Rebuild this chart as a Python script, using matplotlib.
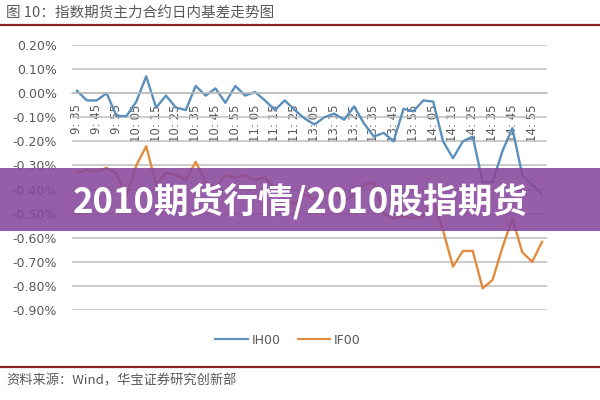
#!/usr/bin/env python3

'''Plot intraday basis of index futures (IH00 vs IF00) with banner.'''

import matplotlib.pyplot as plt
import matplotlib.lines as mlines
import matplotlib.patches as mpatches
import matplotlib.ticker as ticker

CJK = ['Noto Sans CJK SC', 'DejaVu Sans']

TITLE = '图 10：指数期货主力合约日内基差走势图'
SOURCE = '资料来源：Wind，华宝证券研究创新部'
BANNER = '2010期货行情/2010股指期货'

TIMES = ['9:35', '9:40', '9:45', '9:50', '9:55', '10:00', '10:05', '10:10',
         '10:15', '10:20', '10:25', '10:30', '10:35', '10:40', '10:45', '10:50',
         '10:55', '11:00', '11:05', '11:10', '11:15', '11:20', '11:25', '11:30',
         '13:05', '13:10', '13:15', '13:20', '13:25', '13:30', '13:35', '13:40',
         '13:45', '13:50', '13:55', '14:00', '14:05', '14:10', '14:15', '14:20',
         '14:25', '14:30', '14:35', '14:40', '14:45', '14:50', '14:55', '15:00']

IH00 = [0.01, -0.03, -0.03, 0.00, -0.095, -0.095, -0.035, 0.07,
        -0.06, -0.01, -0.06, -0.07, 0.03, -0.01, 0.02, -0.04,
        0.03, -0.01, 0.005, -0.03, -0.07, -0.03, -0.07, -0.105,
        -0.13, -0.10, -0.085, -0.11, -0.055, -0.125, -0.18, -0.165,
        -0.20, -0.065, -0.075, -0.03, -0.035, -0.20, -0.27, -0.20,
        -0.18, -0.37, -0.37, -0.24, -0.145, -0.34, -0.38, -0.42]

IF00 = [-0.33, -0.32, -0.325, -0.31, -0.335, -0.43, -0.30, -0.22,
        -0.38, -0.33, -0.34, -0.36, -0.285, -0.37, -0.39, -0.34,
        -0.35, -0.34, -0.36, -0.35, -0.40, -0.44, -0.46, -0.42,
        -0.44, -0.42, -0.40, -0.45, -0.42, -0.38, -0.37, -0.50,
        -0.52, -0.51, -0.52, -0.51, -0.45, -0.57, -0.72, -0.655,
        -0.655, -0.81, -0.775, -0.64, -0.52, -0.66, -0.70, -0.617]

Y_TICKS = [0.2, 0.1, 0.0, -0.1, -0.2, -0.3, -0.4, -0.5, -0.6, -0.7, -0.8, -0.9]

BLUE = '#5b8fbc'
ORANGE = '#e38b3e'
GRID = '#bdbdbd'
TEXT = '#595959'
RULE = '#8b2323'


def format_axis(axis):
    '''Grid, ticks and spines in the Excel look.'''
    axis.set_xlim(-0.5, len(TIMES) - 0.5)
    axis.set_ylim(-0.9, 0.2)
    axis.set_yticks(Y_TICKS)
    axis.yaxis.set_major_formatter(ticker.FuncFormatter(lambda v, _: '%.2f%%' % v))
    axis.yaxis.grid(True, color=GRID, linewidth=1.1)
    axis.set_axisbelow(True)
    for name in ('top', 'right', 'left'):
        axis.spines[name].set_visible(False)
    axis.spines['bottom'].set_position(('data', 0))
    axis.spines['bottom'].set_color(GRID)
    axis.spines['bottom'].set_linewidth(1.1)

    pos = list(range(0, len(TIMES), 2))
    axis.set_xticks(pos)
    axis.set_xticklabels([TIMES[i].replace(':', ': ') for i in pos],
                         rotation=90, va='top', ha='center', fontsize=8.5,
                         color=TEXT)
    axis.tick_params(axis='x', length=0, pad=8)
    axis.tick_params(axis='y', length=0, pad=11, labelsize=9, labelcolor=TEXT)


def decorate(fig):
    '''Title, rules, legend, source and banner.'''
    fig.text(0.01, 1 - 13 / 400, TITLE, family=CJK, fontsize=10.5,
             color=TEXT, va='center', ha='left')
    fig.add_artist(mlines.Line2D([0, 1], [1 - 25 / 400] * 2, color=RULE,
                                 linewidth=1.6))
    fig.add_artist(mlines.Line2D([0, 1], [1 - 367 / 400] * 2, color=RULE,
                                 linewidth=1.6))
    fig.text(0.01, 1 - 381 / 400, SOURCE, family=CJK, fontsize=9.5,
             color=TEXT, va='center', ha='left')

    ih_line = mlines.Line2D([], [], color=BLUE, linewidth=1.5, label='IH00')
    if_line = mlines.Line2D([], [], color=ORANGE, linewidth=1.5, label='IF00')
    leg = fig.legend(handles=[ih_line, if_line], loc='center',
                     bbox_to_anchor=(0.48, 1 - 340 / 400), ncol=2,
                     frameon=False, fontsize=9, handlelength=2.6,
                     columnspacing=1.4, handletextpad=0.3)
    for txt in leg.get_texts():
        txt.set_color(TEXT)

    top = 1 - 168 / 400
    bot = 1 - 231 / 400
    fig.add_artist(mpatches.Rectangle((0, bot), 1, top - bot,
                                      transform=fig.transFigure,
                                      facecolor='#88489c', alpha=0.88,
                                      edgecolor='none', zorder=10))
    fig.text(0.5, 1 - 201 / 400, BANNER, family=CJK, fontsize=25,
             fontweight='bold', color='white', ha='center', va='center',
             zorder=11)


def plot_graph():
    '''Draw the chart and save out.png.'''
    fig = plt.figure(figsize=(6, 4), dpi=100)
    axis = fig.add_axes([72 / 600, 1 - 310 / 400, 475 / 600, 265 / 400])
    xs = range(len(TIMES))
    axis.plot(xs, IH00, '-', color=BLUE, linewidth=1.7)
    axis.plot(xs, IF00, '-', color=ORANGE, linewidth=1.7)
    format_axis(axis)
    decorate(fig)
    plt.savefig('out.png', dpi=100)


if __name__ == '__main__':
    plot_graph()
